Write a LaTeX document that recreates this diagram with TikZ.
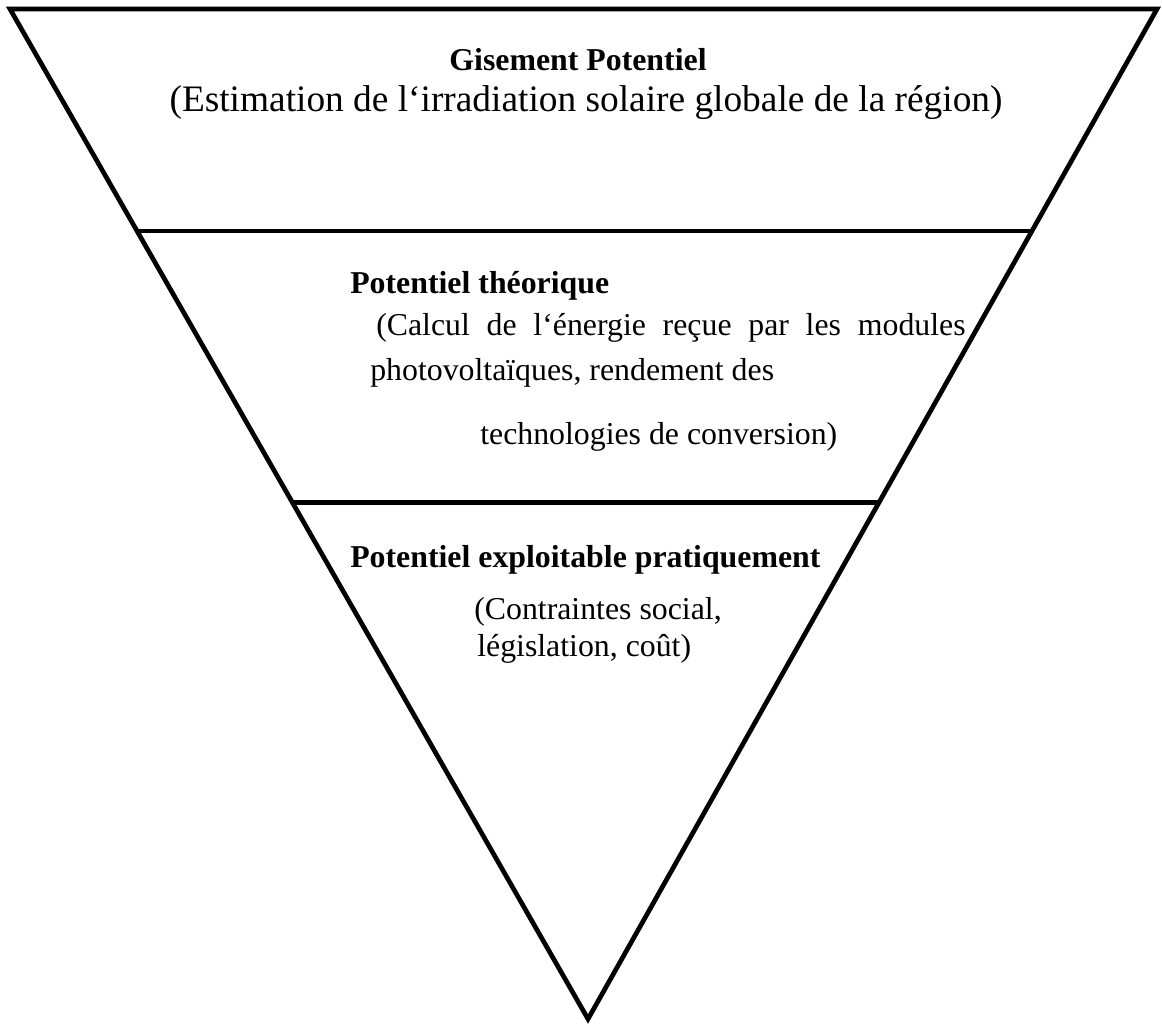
\documentclass[tikz,border=0pt]{standalone}
\usepackage{fontspec}
\setmainfont{Liberation Serif}
\usetikzlibrary{calc}
\definecolor{ShapeClr}{rgb}{0,0,0}

\begin{document}
\begin{tikzpicture}[x=0.0254cm,y=-0.0254cm]
\tikzset{edge/.style={line width=3.4pt,color=ShapeClr,line join=miter},
  ttl/.style={font=\bfseries\fontsize{23}{28}\selectfont,inner sep=0pt},
  txt/.style={font=\fontsize{23}{28}\selectfont,inner sep=0pt}}
\useasboundingbox (0,0) rectangle (1162,1028);

\coordinate (A) at (10,9);
\coordinate (B) at (1157,9);
\coordinate (C) at (588,1019);

\coordinate (P) at ($(A)!0.2197!(C)$);
\coordinate (Q) at ($(B)!0.2197!(C)$);
\coordinate (R) at ($(A)!0.4887!(C)$);
\coordinate (S) at ($(B)!0.4887!(C)$);

\draw[edge] (A) -- (B) -- (C) -- cycle;
\draw[edge] (P) -- (Q);
\draw[edge] (R) -- (S);

% gisement
\node[ttl] (gisT) at (578,60) {Gisement Potentiel};
\node[txt,font=\fontsize{27}{31}\selectfont] (gisD) at (586,103)
  {(Estimation de l`irradiation solaire globale de la région)};

% theorique
\node[ttl,anchor=west] (theoT) at (350,286) {Potentiel théorique};
\node[txt,anchor=west] (theoA) at (376,328) {\makebox[426pt][s]{(Calcul de l`énergie reçue par les modules}};
\node[txt,anchor=west] (theoB) at (370,373) {photovoltaïques, rendement des};
\node[txt,anchor=west] (theoC) at (480,437) {technologies de conversion)};

% pratique
\node[ttl,anchor=west] (pratT) at (350,560) {Potentiel exploitable pratiquement};
\node[txt,anchor=west] (pratA) at (474,612) {(Contraintes social,};
\node[txt,anchor=west] (pratB) at (477,649) {législation, coût)};
\end{tikzpicture}
\end{document}
